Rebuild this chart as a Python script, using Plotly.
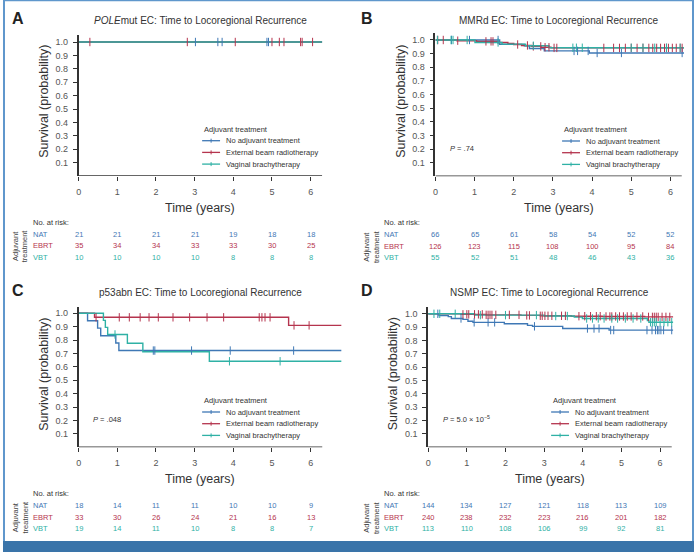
import numpy as np
import plotly.graph_objects as go

W, H = 694, 552
FONT = "Liberation Sans, Arial, Helvetica, sans-serif"

COL = {"NAT": "#3f78b5", "EBRT": "#b5344e", "VBT": "#2fb1a5"}
GROUPS = ["NAT", "EBRT", "VBT"]
LEGEND_LABELS = ["No adjuvant treatment", "External beam radiotherapy", "Vaginal brachytherapy"]

# ---------------- data ----------------
risk_times = [0, 1, 2, 3, 4, 5, 6]
y_ticks = [0.1, 0.2, 0.3, 0.4, 0.5, 0.6, 0.7, 0.8, 0.9, 1.0]
y_tick_labels = ["0.1", "0.2", "0.3", "0.4", "0.5", "0.6", "0.7", "0.8", "0.9", "1.0"]

# Panel A: POLEmut
a_nat_time = [0, 6.30]
a_nat_surv = [1.0, 1.0]
a_nat_cens = [3.02, 3.60, 3.71, 4.87, 4.91]
a_ebrt_time = [0, 6.30]
a_ebrt_surv = [1.0, 1.0]
a_ebrt_cens = [0.29, 2.81, 4.05, 5.00, 5.19, 5.31, 5.74, 5.78, 6.05]
a_vbt_time = [0, 6.30]
a_vbt_surv = [1.0, 1.0]
a_vbt_cens = []
a_risk_nat = [21, 21, 21, 21, 19, 18, 18]
a_risk_ebrt = [35, 34, 34, 33, 33, 30, 25]
a_risk_vbt = [10, 10, 10, 10, 8, 8, 8]

# Panel B: MMRd
b_nat_time = [0, 1.64, 2.27, 2.40, 2.78, 3.93, 6.35]
b_nat_surv = [1.0, 0.968, 0.958, 0.938, 0.920, 0.905, 0.905]
b_nat_cens = [0.41, 0.87, 1.60, 3.54, 3.63, 3.90, 4.13, 4.75, 6.30]
b_ebrt_time = [0, 0.55, 1.05, 1.60, 1.85, 2.00, 2.20, 2.45, 2.70, 2.95, 6.35]
b_ebrt_surv = [1.0, 0.995, 0.990, 0.982, 0.975, 0.967, 0.960, 0.953, 0.947, 0.942, 0.942]
b_ebrt_cens = [0.06, 0.20, 0.57, 1.29, 1.42, 1.47, 2.10, 2.35, 2.50, 2.69, 2.80, 2.90, 3.03,
               3.10, 4.30, 4.55, 4.70, 4.85, 5.00, 5.15, 5.30, 5.45, 5.55, 5.65, 5.75, 5.85,
               5.90, 5.95, 6.05, 6.15, 6.25, 6.30]
b_vbt_time = [0, 1.01, 1.70, 2.30, 2.90, 6.35]
b_vbt_surv = [1.0, 0.982, 0.970, 0.958, 0.943, 0.943]
b_vbt_cens = [0.05, 0.40, 0.45, 0.81, 1.60, 2.50, 3.51, 3.60, 3.75, 5.00, 5.30, 5.60, 5.90, 6.25]
b_risk_nat = [66, 65, 61, 58, 54, 52, 52]
b_risk_ebrt = [126, 123, 115, 108, 100, 95, 84]
b_risk_vbt = [55, 52, 51, 48, 46, 43, 36]

# Panel C: p53abn
c_nat_time = [0, 0.23, 0.49, 0.57, 0.96, 1.04, 6.80]
c_nat_surv = [1.0, 0.944, 0.889, 0.833, 0.778, 0.722, 0.722]
c_nat_cens = [1.93, 1.97, 2.92, 3.92, 5.56]
c_ebrt_time = [0, 0.41, 5.43, 6.80]
c_ebrt_surv = [1.0, 0.970, 0.910, 0.910]
c_ebrt_cens = [0.45, 1.05, 1.31, 1.59, 1.82, 2.06, 2.44, 2.87, 3.32, 3.75, 4.67, 4.74,
               4.82, 4.95, 5.57, 5.96]
c_vbt_time = [0, 0.64, 0.69, 0.75, 1.26, 1.66, 3.38, 6.80]
c_vbt_surv = [1.0, 0.947, 0.895, 0.842, 0.777, 0.713, 0.642, 0.642]
c_vbt_cens = [0.94, 3.90, 5.21]
c_risk_nat = [18, 14, 11, 11, 10, 10, 9]
c_risk_ebrt = [33, 30, 26, 24, 21, 16, 13]
c_risk_vbt = [19, 14, 11, 10, 8, 8, 7]

# Panel D: NSMP
d_nat_time = [0, 0.28, 0.52, 0.60, 0.90, 1.03, 1.16, 1.97, 2.57, 2.70, 3.48, 4.68, 6.34]
d_nat_surv = [1.0, 0.986, 0.979, 0.965, 0.958, 0.944, 0.936, 0.925, 0.913, 0.906, 0.890, 0.878, 0.878]
d_nat_cens = [0.25, 0.85, 1.19, 1.55, 1.72, 2.75, 4.12, 4.29, 4.42, 4.72, 4.80, 5.66, 5.79,
              5.88, 5.93, 5.97, 6.02, 6.09, 6.30]
d_ebrt_time = [0, 0.85, 1.50, 2.40, 2.90, 3.70, 4.50, 5.60, 6.34]
d_ebrt_surv = [1.0, 0.996, 0.992, 0.988, 0.985, 0.982, 0.980, 0.977, 0.977]
d_ebrt_cens = [0.90, 1.00, 1.05, 1.20, 1.30, 1.40, 1.50, 1.55, 1.60, 1.65, 1.75, 2.10, 2.35,
               2.55, 2.62, 2.90, 2.95, 3.02, 3.10, 3.20, 3.45, 3.55, 3.90, 4.05, 4.20, 4.35,
               4.45, 4.60, 4.70, 4.75, 4.85, 4.95, 5.05, 5.15, 5.25, 5.40, 5.55, 5.70, 5.80,
               5.85, 5.90, 5.95, 6.05, 6.15, 6.25]
d_vbt_time = [0, 1.20, 3.00, 3.78, 3.99, 5.67, 5.71, 6.34]
d_vbt_surv = [1.0, 0.990, 0.983, 0.975, 0.965, 0.950, 0.937, 0.937]
d_vbt_cens = [0.15, 0.30, 0.70, 1.35, 2.00, 2.80, 3.30, 3.60, 4.10, 4.25, 4.40, 4.55, 4.75,
              4.90, 5.10, 5.30, 5.50, 5.75, 5.80, 5.85, 5.90, 6.00, 6.10, 6.20, 6.30]
d_risk_nat = [144, 134, 127, 121, 118, 113, 109]
d_risk_ebrt = [240, 238, 232, 223, 216, 201, 182]
d_risk_vbt = [113, 110, 108, 106, 99, 92, 81]

panels = [
    dict(letter="A", title="<i>POLE</i>mut EC: Time to Locoregional Recurrence", pval=None,
         curves={"NAT": (a_nat_time, a_nat_surv, a_nat_cens),
                 "EBRT": (a_ebrt_time, a_ebrt_surv, a_ebrt_cens),
                 "VBT": (a_vbt_time, a_vbt_surv, a_vbt_cens)},
         risk={"NAT": a_risk_nat, "EBRT": a_risk_ebrt, "VBT": a_risk_vbt}),
    dict(letter="B", title="MMRd EC: Time to Locoregional Recurrence", pval="<i>P</i> = .74",
         curves={"NAT": (b_nat_time, b_nat_surv, b_nat_cens),
                 "EBRT": (b_ebrt_time, b_ebrt_surv, b_ebrt_cens),
                 "VBT": (b_vbt_time, b_vbt_surv, b_vbt_cens)},
         risk={"NAT": b_risk_nat, "EBRT": b_risk_ebrt, "VBT": b_risk_vbt}),
    dict(letter="C", title="p53abn EC: Time to Locoregional Recurrence", pval="<i>P</i> = .048",
         curves={"NAT": (c_nat_time, c_nat_surv, c_nat_cens),
                 "EBRT": (c_ebrt_time, c_ebrt_surv, c_ebrt_cens),
                 "VBT": (c_vbt_time, c_vbt_surv, c_vbt_cens)},
         risk={"NAT": c_risk_nat, "EBRT": c_risk_ebrt, "VBT": c_risk_vbt}),
    dict(letter="D", title="NSMP EC: Time to Locoregional Recurrence",
         pval="<i>P</i> = 5.0 × 10<sup>−5</sup>",
         curves={"NAT": (d_nat_time, d_nat_surv, d_nat_cens),
                 "EBRT": (d_ebrt_time, d_ebrt_surv, d_ebrt_cens),
                 "VBT": (d_vbt_time, d_vbt_surv, d_vbt_cens)},
         risk={"NAT": d_risk_nat, "EBRT": d_risk_ebrt, "VBT": d_risk_vbt}),
]

# ---------------- geometry (pixels) ----------------
geo = [
    dict(x0=76.0, ppy=38.83, xmax=6.30, xend=6.30, y0=176.0, unit=134.0,
         ytitle_x=41, ytitle_y=101, legx=200, tabx=28.5, letx=15, lety=18, titley=20),
    dict(x0=434.3, ppy=39.33, xmax=6.35, xend=6.29, y0=176.3, unit=136.3,
         ytitle_x=399.5, ytitle_y=101, legx=561.5, tabx=380.5, letx=365.5, lety=18, titley=20),
    dict(x0=76.0, ppy=38.83, xmax=6.80, xend=6.30, y0=447.3, unit=134.0,
         ytitle_x=41, ytitle_y=374, legx=200, tabx=28.5, letx=15, lety=290, titley=292),
    dict(x0=427.0, ppy=38.83, xmax=6.34, xend=6.30, y0=447.3, unit=133.5,
         ytitle_x=392, ytitle_y=374, legx=550.5, tabx=380.5, letx=365.5, lety=290, titley=292),
]
YMAX = 1.05


def px(x):
    return x / W


def py(y):
    return 1 - y / H


def surv_at(times, survs, t):
    i = np.searchsorted(np.asarray(times), t, side="right") - 1
    return np.asarray(survs)[np.clip(i, 0, len(survs) - 1)]


def ann(text, x, y, size=7.5, color="#333", xanchor="center", xref="paper", **kw):
    return dict(text=text, x=x, y=y, xref=xref, yref="paper", xanchor=xanchor, yanchor="middle",
                showarrow=False, font=dict(size=size, color=color, family=FONT), **kw)


fig = go.Figure()
annotations = []
shapes = []
layout_axes = {}

for k, (p, g) in enumerate(zip(panels, geo)):
    n = "" if k == 0 else str(k + 1)
    xa, ya = "x" + n, "y" + n
    xdom = [px(g["x0"]), px(g["x0"] + g["xmax"] * g["ppy"])]
    ydom = [py(g["y0"]), py(g["y0"] - YMAX * g["unit"])]
    layout_axes["xaxis" + n] = dict(
        domain=xdom, range=[0, g["xmax"]], anchor=ya, tickvals=risk_times,
        ticks="outside", ticklen=4, tickwidth=1, tickcolor="#333", showline=False,
        showgrid=False, zeroline=False, tickfont=dict(size=9, color="#555", family=FONT),
        ticklabelstandoff=3, fixedrange=True)
    layout_axes["yaxis" + n] = dict(
        domain=ydom, range=[0, YMAX], anchor=xa, tickvals=y_ticks, ticktext=y_tick_labels,
        ticks="outside", ticklen=4, tickwidth=1, tickcolor="#333", showline=True,
        linecolor="#333", linewidth=1.5, showgrid=False, zeroline=False,
        tickfont=dict(size=9, color="#555", family=FONT), ticklabelstandoff=3, fixedrange=True)

    # curves
    for grp in GROUPS:
        t, s, cens = p["curves"][grp]
        fig.add_trace(go.Scatter(x=t, y=s, mode="lines", line=dict(color=COL[grp], width=1.4, shape="hv"),
                                 xaxis=xa, yaxis=ya, showlegend=False, hoverinfo="skip"))
    for grp in GROUPS:
        t, s, cens = p["curves"][grp]
        if len(cens):
            fig.add_trace(go.Scatter(x=cens, y=surv_at(t, s, cens), mode="markers",
                                     marker=dict(symbol="line-ns-open", size=6, color=COL[grp],
                                                 line=dict(width=1, color=COL[grp])),
                                     xaxis=xa, yaxis=ya, showlegend=False, hoverinfo="skip"))

    # x-axis line (shorter than curves in some panels)
    shapes.append(dict(type="line", xref=xa, yref=ya, x0=0, x1=g["xend"], y0=0, y1=0,
                       line=dict(color="#333", width=1.5)))

    # letter and title
    annotations.append(ann("<b>%s</b>" % p["letter"], px(g["letx"]), py(g["lety"]), size=16, color="#222"))
    xc = g["x0"] + g["xend"] * g["ppy"] / 2
    annotations.append(ann(p["title"], px(xc), py(g["titley"]), size=10))
    # axis titles
    annotations.append(ann("Time (years)", px(xc), py(g["y0"] + 32), size=12.5))
    annotations.append(ann("Survival (probability)", px(g["ytitle_x"]), py(g["ytitle_y"]), size=12.5,
                           textangle=-90))
    # p value
    if p["pval"]:
        annotations.append(ann(p["pval"], px(g["x0"] + 12.5), py(g["y0"] - 28), xanchor="left"))
    # legend
    lx = g["legx"]
    annotations.append(ann("Adjuvant treatment", px(lx), py(g["y0"] - 47), xanchor="left"))
    for j, (grp, lab) in enumerate(zip(GROUPS, LEGEND_LABELS)):
        yy = g["y0"] - 35.3 + j * 11.7
        shapes.append(dict(type="line", xref="paper", yref="paper", x0=px(lx), x1=px(lx + 18),
                           y0=py(yy), y1=py(yy), line=dict(color=COL[grp], width=1.3)))
        shapes.append(dict(type="line", xref="paper", yref="paper", x0=px(lx + 9), x1=px(lx + 9),
                           y0=py(yy - 2), y1=py(yy + 2), line=dict(color=COL[grp], width=1)))
        annotations.append(ann(lab, px(lx + 22), py(yy), xanchor="left"))
    # risk table
    tx = g["tabx"]
    ry0 = g["y0"] + 46.3
    annotations.append(ann("No. at risk:", px(tx), py(ry0), xanchor="left"))
    for j, grp in enumerate(GROUPS):
        ry = ry0 + 11.7 + j * 11.8
        annotations.append(ann(grp, px(tx), py(ry), color=COL[grp], xanchor="left"))
        for t, nrisk in zip(risk_times, p["risk"][grp]):
            annotations.append(ann(str(nrisk), t, py(ry), color=COL[grp], xref=xa))
    annotations.append(ann("Adjuvant<br>treatment", px(tx - 11), py(ry0 + 23.5), color="#444",
                           textangle=-90))

# frame
shapes.append(dict(type="line", xref="paper", yref="paper", x0=px(1), x1=px(1), y0=0, y1=1,
                   line=dict(color="#5f97cc", width=2)))
shapes.append(dict(type="line", xref="paper", yref="paper", x0=0, x1=1, y0=py(0.5), y1=py(0.5),
                   line=dict(color="#5f97cc", width=1.5)))
shapes.append(dict(type="line", xref="paper", yref="paper", x0=px(693), x1=px(693), y0=0, y1=1,
                   line=dict(color="#5f97cc", width=2)))
shapes.append(dict(type="rect", xref="paper", yref="paper", x0=0, x1=1, y0=0, y1=py(541),
                   fillcolor="#3a74a9", line=dict(width=0)))

fig.update_layout(width=W, height=H, margin=dict(l=0, r=0, t=0, b=0), paper_bgcolor="white",
                  plot_bgcolor="white", showlegend=False, annotations=annotations, shapes=shapes,
                  font=dict(family=FONT), **layout_axes)

fig.write_html("out.html", config={"displayModeBar": False},
               post_script="document.body.style.margin='0';document.body.style.overflow='hidden';")
